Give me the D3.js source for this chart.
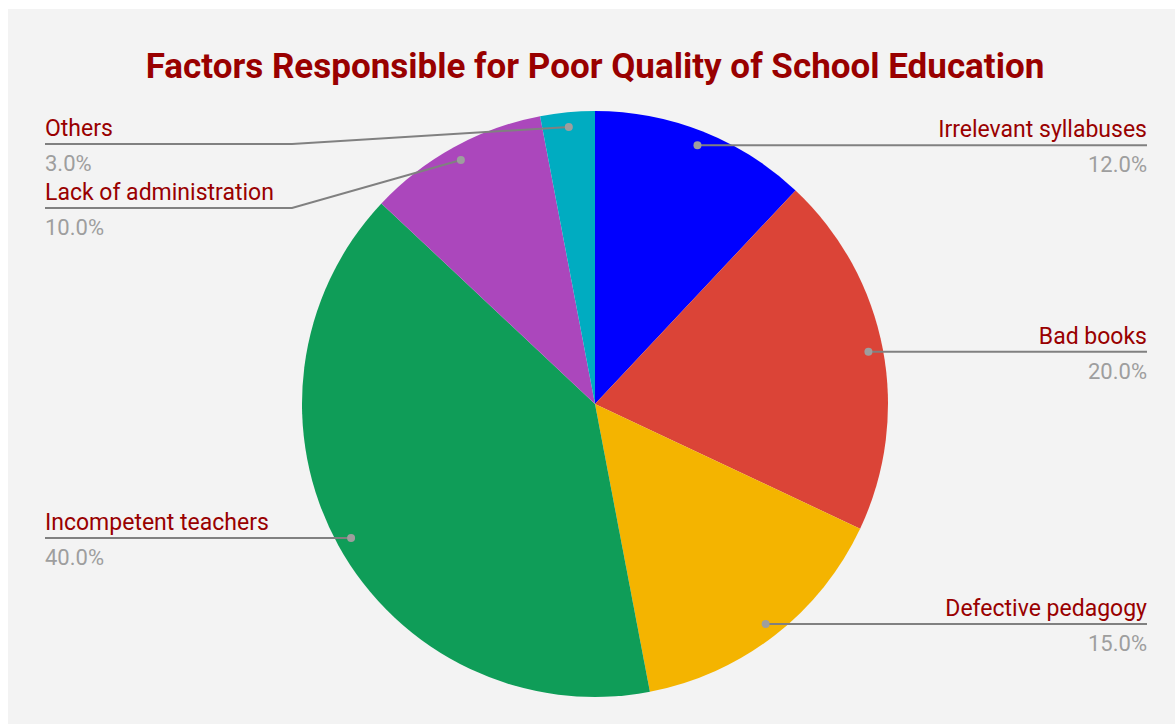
<!DOCTYPE html>
<html>
<head>
<meta charset="utf-8">
<script src="https://cdn.jsdelivr.net/npm/d3@7"></script>
<style>
	body { margin: 0; background: #ffffff; }
	svg { display: block; font-family: Roboto, "Noto Sans", sans-serif; }
</style>
</head>
<body>
<script>
const categories = ["Irrelevant syllabuses", "Bad books", "Defective pedagogy", "Incompetent teachers", "Lack of administration", "Others"];
const shares = [12, 20, 15, 40, 10, 3];
const sliceColors = ["#0000ff", "#db4437", "#f4b400", "#0f9d58", "#ab47bc", "#00acc1"];
const chartTitle = "Factors Responsible for Poor Quality of School Education";

document.addEventListener("DOMContentLoaded", function(event) {
	const width = 1175;
	const height = 724;

	const svg = d3.select("body")
		.append("svg")
		.attr("width", width)
		.attr("height", height);

	//chart background
	svg.append("rect")
		.attr("x", 8)
		.attr("y", 9)
		.attr("width", width - 8)
		.attr("height", height - 9)
		.attr("fill", "#f3f3f3");

	svg.append("text")
		.attr("x", 595)
		.attr("y", 78)
		.attr("text-anchor", "middle")
		.attr("font-size", 35)
		.attr("font-weight", "bold")
		.attr("fill", "#990000")
		.text(chartTitle);

	const cx = 595, cy = 404, r = 293;
	const data = categories.map(function(c, i) { return {name: c, value: shares[i], color: sliceColors[i]}; });

	const pie = d3.pie().sort(null).value(function(d) { return d.value; });
	const arc = d3.arc().innerRadius(0).outerRadius(r);
	const arcs = pie(data);
	const total = d3.sum(shares);

	const g = svg.append("g").attr("transform", "translate(" + cx + "," + cy + ")");

	g.selectAll("path")
		.data(arcs)
		.enter()
		.append("path")
		.attr("d", arc)
		.attr("fill", function(d) { return d.data.color; });

	//label anchor points sit at 95% of the radius on the mid angle
	arcs.forEach(function(d) {
		const a = (d.startAngle + d.endAngle) / 2;
		d.px = cx + Math.sin(a) * r * 0.95;
		d.py = cy - Math.cos(a) * r * 0.95;
		d.right = d.px >= cx;
	});

	//place labels top down on each side, keep them apart
	const minY = 144, gap = 64;
	[true, false].forEach(function(side) {
		let prev = -Infinity;
		arcs.filter(function(d) { return d.right === side; })
			.sort(function(a, b) { return a.py - b.py; })
			.forEach(function(d) {
				d.ly = Math.max(d.py, prev + gap, minY);
				prev = d.ly;
			});
	});

	const leftX = 45, rightX = 1147, elbowX = 292;

	const labels = svg.append("g");

	labels.selectAll("path")
		.data(arcs)
		.enter()
		.append("path")
		.attr("fill", "none")
		.attr("stroke", "#808080")
		.attr("stroke-width", 2)
		.attr("d", function(d) {
			if (d.right) {
				return "M" + d.px + "," + d.py + "L" + rightX + "," + d.ly;
			}
			if (Math.abs(d.ly - d.py) < 1) {
				return "M" + d.px + "," + d.py + "L" + leftX + "," + d.ly;
			}
			return "M" + d.px + "," + d.py + "L" + elbowX + "," + d.ly + "L" + leftX + "," + d.ly;
		});

	labels.selectAll("circle")
		.data(arcs)
		.enter()
		.append("circle")
		.attr("cx", function(d) { return d.px; })
		.attr("cy", function(d) { return d.py; })
		.attr("r", 4)
		.attr("fill", "#9e9e9e");

	labels.selectAll("text.name")
		.data(arcs)
		.enter()
		.append("text")
		.attr("class", "name")
		.attr("x", function(d) { return d.right ? rightX : leftX; })
		.attr("y", function(d) { return d.ly - 8; })
		.attr("text-anchor", function(d) { return d.right ? "end" : "start"; })
		.attr("font-size", 23)
		.attr("fill", "#990000")
		.text(function(d) { return d.data.name; });

	labels.selectAll("text.pct")
		.data(arcs)
		.enter()
		.append("text")
		.attr("class", "pct")
		.attr("x", function(d) { return d.right ? rightX : leftX; })
		.attr("y", function(d) { return d.ly + 27; })
		.attr("text-anchor", function(d) { return d.right ? "end" : "start"; })
		.attr("font-size", 22)
		.attr("fill", "#9e9e9e")
		.text(function(d) { return (d.data.value / total * 100).toFixed(1) + "%"; });
});
</script>
</body>
</html>
